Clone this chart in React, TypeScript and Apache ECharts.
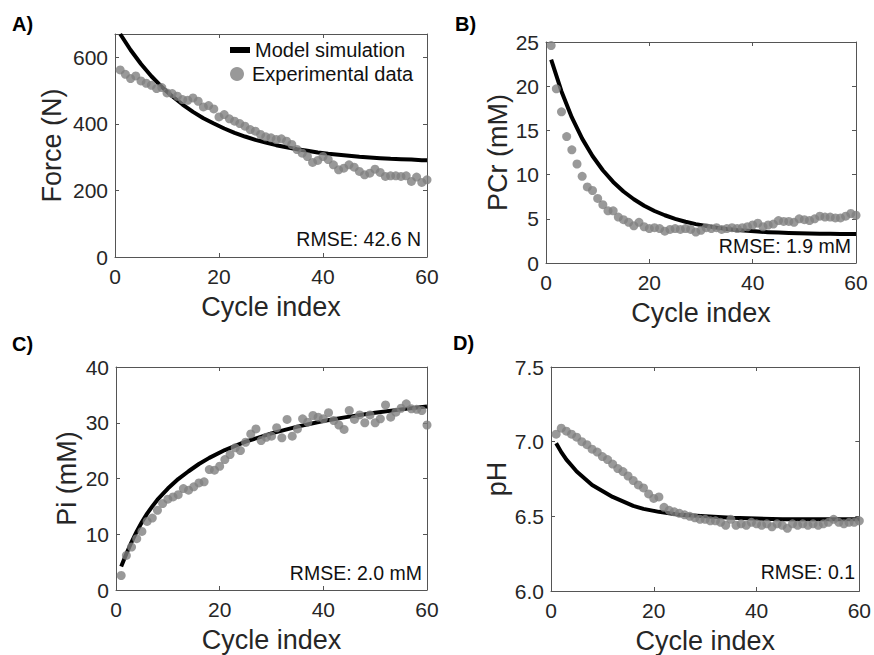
import React, { useEffect, useRef } from "react";
import * as echarts from "echarts";

// ---------- data ----------
const cycleIndex = [
  1, 2, 3, 4, 5, 6, 7, 8, 9, 10, 11, 12, 13, 14, 15, 16, 17, 18, 19, 20,
  21, 22, 23, 24, 25, 26, 27, 28, 29, 30, 31, 32, 33, 34, 35, 36, 37, 38, 39, 40,
  41, 42, 43, 44, 45, 46, 47, 48, 49, 50, 51, 52, 53, 54, 55, 56, 57, 58, 59, 60,
];

const forceData = [
  562, 549, 536, 544, 529, 522, 516, 506, 509, 493,
  491, 483, 473, 471, 478, 468, 451, 455, 445, 421,
  428, 415, 408, 401, 393, 383, 378, 368, 361, 358,
  353, 355, 348, 338, 323, 312, 302, 284, 290, 302,
  293, 277, 262, 267, 277, 270, 257, 247, 252, 264,
  254, 242, 244, 244, 242, 244, 227, 240, 224, 232,
];

const pcrData = [
  24.6, 19.7, 17.1, 14.3, 12.8, 11.2, 9.8, 8.6, 8.2, 7.3,
  6.6, 5.9, 5.9, 5.2, 4.9, 4.6, 4.2, 4.6, 4.1, 3.9,
  4.0, 3.9, 3.6, 3.8, 3.9, 3.8, 3.9, 3.8, 3.5, 3.7,
  4.0, 3.9, 4.0, 3.8, 3.9, 4.0, 3.9, 4.0, 4.1, 4.3,
  4.5, 4.1, 4.3, 4.4, 4.8, 4.7, 4.7, 4.6, 5.0, 4.9,
  4.8, 5.0, 5.3, 5.2, 5.2, 5.1, 5.1, 5.3, 5.6, 5.4,
];

const piData = [
  2.6, 6.2, 7.7, 9.2, 10.5, 12.3, 12.9, 14.3, 15.5, 16.3,
  16.7, 17.1, 18.2, 17.9, 18.5, 19.2, 19.4, 21.6, 21.5, 22.2,
  23.4, 24.3, 25.5, 25.0, 26.5, 28.0, 28.9, 26.8, 27.4, 27.6,
  29.1, 27.3, 30.6, 27.6, 28.9, 30.7, 30.1, 31.3, 31.0, 30.7,
  31.8, 30.4, 29.6, 28.8, 32.2, 30.6, 31.4, 30.0, 31.4, 30.0,
  30.7, 33.2, 31.0, 31.9, 32.6, 33.4, 32.5, 32.4, 32.2, 29.6,
];

const phData = [
  7.05, 7.09, 7.07, 7.05, 7.03, 7.0, 6.98, 6.95, 6.93, 6.9,
  6.88, 6.85, 6.82, 6.8, 6.77, 6.74, 6.71, 6.69, 6.65, 6.62,
  6.63, 6.56, 6.54, 6.53, 6.52, 6.51, 6.5, 6.49, 6.48, 6.48,
  6.47, 6.47, 6.46, 6.44, 6.48, 6.44, 6.45, 6.44, 6.46, 6.45,
  6.44, 6.45, 6.43, 6.45, 6.44, 6.42, 6.45, 6.44, 6.45, 6.44,
  6.45, 6.44, 6.45, 6.46, 6.48, 6.46, 6.45, 6.46, 6.46, 6.47,
];

// model curves, read every 2 cycles (plus the last cycle)
const modelXA = [1, 3, 5, 7, 9, 11, 13, 15, 17, 19, 21, 23, 25, 27, 29, 31, 33, 35, 37, 39, 41, 43, 45, 47, 49, 51, 53, 55, 57, 59, 60];
const forceModel = [670, 622, 580, 543, 511, 483, 458, 436, 417, 401, 386, 373, 362, 352, 344, 336, 330, 324, 319, 314, 310, 307, 304, 301, 299, 297, 295, 294, 293, 291, 291];
const pcrModel = [23.0, 19.41, 16.47, 14.07, 12.1, 10.49, 9.17, 8.09, 7.21, 6.48, 5.88, 5.4, 5.0, 4.67, 4.4, 4.19, 4.0, 3.85, 3.73, 3.64, 3.56, 3.49, 3.44, 3.4, 3.37, 3.34, 3.32, 3.31, 3.29, 3.28, 3.28];
// model curves, read at irregular cycles
const modelXB = [1, 2, 3, 4, 5, 6, 7, 8, 10, 12, 14, 16, 18, 21, 25, 30, 35, 40, 45, 50, 55, 60];
const piModel = [4.2, 6.5, 8.6, 10.5, 12.2, 13.7, 15.0, 16.2, 18.2, 19.9, 21.3, 22.6, 23.7, 25.1, 26.6, 28.1, 29.3, 30.3, 31.1, 31.8, 32.4, 32.9];
const phModel = [6.99, 6.93, 6.88, 6.84, 6.8, 6.77, 6.74, 6.71, 6.67, 6.63, 6.6, 6.57, 6.55, 6.53, 6.51, 6.5, 6.49, 6.485, 6.48, 6.48, 6.48, 6.48];

const panelLetters = ["A)", "B)", "C)", "D)"];
const yTitles = ["Force (N)", "PCr (mM)", "Pi (mM)", "pH"];
const rmseTexts = ["RMSE: 42.6 N", "RMSE: 1.9 mM", "RMSE: 2.0 mM", "RMSE: 0.1"];
const xTitle = "Cycle index";
const seriesNames = ["Model simulation", "Experimental data"];

// ---------- layout / style ----------
const FONT = '"Liberation Sans", Arial, Helvetica, sans-serif';
const INK = "#262626";
const AXIS = "#555555";

const panels = [
  { grid: { left: 115, top: 34, width: 312, height: 223 }, yMin: 0, yMax: 670, yInt: 200, fmt: (v: number) => (v % 200 === 0 ? String(v) : ""), yGap: 50, mx: modelXA, model: forceModel, data: forceData, letter: [12, 24], rmse: [421, 239] },
  { grid: { left: 546, top: 42, width: 310, height: 221 }, yMin: 0, yMax: 25, yInt: 5, fmt: (v: number) => String(v), yGap: 35, mx: modelXA, model: pcrModel, data: pcrData, letter: [455, 24], rmse: [851, 246] },
  { grid: { left: 116, top: 367, width: 311, height: 223 }, yMin: 0, yMax: 40, yInt: 10, fmt: (v: number) => String(v), yGap: 36, mx: modelXB, model: piModel, data: piData, letter: [12, 344], rmse: [422, 573] },
  { grid: { left: 551, top: 367, width: 311, height: 224 }, yMin: 6, yMax: 7.5, yInt: 0.5, fmt: (v: number) => v.toFixed(1), yGap: 40, mx: modelXB, model: phModel, data: phData, letter: [453, 343], rmse: [855, 572] },
];

function buildOption() {
  const grid: any[] = [];
  const xAxis: any[] = [];
  const yAxis: any[] = [];
  const series: any[] = [];
  const graphic: any[] = [];

  const tick = { show: true, inside: true, length: 4, lineStyle: { color: AXIS, width: 1 } };
  const line = { show: true, onZero: false, lineStyle: { color: AXIS, width: 1 } };

  panels.forEach((p, i) => {
    grid.push({ ...p.grid, containLabel: false });
    xAxis.push({
      type: "value", gridIndex: i, position: "bottom", min: 0, max: 60, interval: 20,
      axisLine: line, axisTick: tick, splitLine: { show: false },
      axisLabel: { fontSize: 21, color: INK, fontFamily: FONT, margin: 9 },
      name: xTitle, nameLocation: "middle", nameGap: 36,
      nameTextStyle: { fontSize: 27, color: INK, fontFamily: FONT },
    });
    xAxis.push({
      type: "value", gridIndex: i, position: "top", min: 0, max: 60, interval: 20,
      axisLine: line, axisTick: tick, splitLine: { show: false }, axisLabel: { show: false },
    });
    yAxis.push({
      type: "value", gridIndex: i, position: "left", min: p.yMin, max: p.yMax, interval: p.yInt,
      axisLine: line, axisTick: tick, splitLine: { show: false },
      axisLabel: { fontSize: 21, color: INK, fontFamily: FONT, margin: 7, formatter: p.fmt },
      name: yTitles[i], nameLocation: "middle", nameGap: p.yGap,
      nameTextStyle: { fontSize: 27, color: INK, fontFamily: FONT },
    });
    yAxis.push({
      type: "value", gridIndex: i, position: "right", min: p.yMin, max: p.yMax, interval: p.yInt,
      axisLine: line, axisTick: tick, splitLine: { show: false }, axisLabel: { show: false },
    });

    series.push({
      type: "line", name: seriesNames[0], xAxisIndex: 2 * i, yAxisIndex: 2 * i,
      data: p.mx.map((x, j) => [x, p.model[j]]),
      showSymbol: false, smooth: false,
      lineStyle: { color: "#000000", width: 4, join: "round", cap: "butt" }, itemStyle: { color: "#000000" }, z: 2,
    });
    series.push({
      type: "scatter", name: seriesNames[1], xAxisIndex: 2 * i, yAxisIndex: 2 * i,
      data: cycleIndex.map((x, j) => [x, p.data[j]]),
      symbol: "circle", symbolSize: 9, itemStyle: { color: "#808080" }, z: 3,
    });

    graphic.push({
      type: "text", x: p.letter[0], y: p.letter[1],
      style: { text: panelLetters[i], fontSize: 20, fontWeight: "bold", fill: "#000", fontFamily: FONT, align: "left", verticalAlign: "middle" },
    });
    graphic.push({
      type: "text", x: p.rmse[0], y: p.rmse[1],
      style: { text: rmseTexts[i], fontSize: 19.5, fill: "#111", fontFamily: FONT, align: "right", verticalAlign: "middle" },
    });
  });

  const legendText = { fontSize: 20, color: "#111", fontFamily: FONT };
  const legend = [
    {
      data: [{ name: seriesNames[0], icon: "rect", itemStyle: { color: "#000000", borderWidth: 0 } }],
      left: 230, top: 40, itemWidth: 20, itemHeight: 6, padding: 0, itemGap: 0,
      selectedMode: false, textStyle: legendText,
    },
    {
      data: [{ name: seriesNames[1], icon: "circle", itemStyle: { color: "#808080", borderWidth: 0 } }],
      left: 230, top: 64, itemWidth: 20, itemHeight: 14, padding: 0, itemGap: 0,
      selectedMode: false, textStyle: legendText,
    },
  ];

  return { animation: false, backgroundColor: "#ffffff", grid, xAxis, yAxis, series, graphic, legend };
}

export default function App() {
  const ref = useRef<HTMLDivElement | null>(null);
  useEffect(() => {
    document.body.style.margin = "0";
    if (!ref.current) return;
    const chart = echarts.init(ref.current, undefined, { renderer: "svg" });
    chart.setOption(buildOption() as any);
    return () => chart.dispose();
  }, []);
  return <div ref={ref} style={{ width: 874, height: 655 }} />;
}
